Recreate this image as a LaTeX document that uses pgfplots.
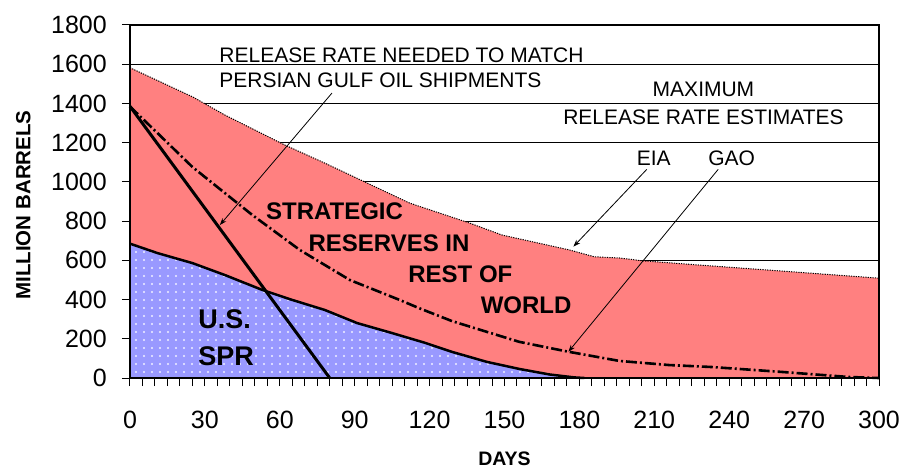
\documentclass[border=0pt]{standalone}
\usepackage{fontspec}
\setmainfont{Liberation Sans}
\usepackage{pgfplots}
\pgfplotsset{compat=1.18}
\usetikzlibrary{arrows.meta,patterns.meta}
\definecolor{redfill}{RGB}{255,128,128}
\definecolor{bluefill}{RGB}{153,153,255}
\definecolor{dotcol}{RGB}{240,240,255}
\begin{document}
\begin{tikzpicture}
\begin{axis}[
  at={(0,0)}, anchor=south west,
  scale only axis, width=749bp, height=353bp,
  xmin=0, xmax=300, ymin=0, ymax=1800,
  xtick={0,30,...,300}, minor x tick num=5,
  ytick={0,200,...,1800},
  xtick pos=bottom, ytick pos=left,
  tick align=outside,
  major tick length=8bp, minor tick length=8bp,
  tick style={black, line width=1bp},
  ymajorgrids, grid style={black, line width=0.8bp},
  axis line style={line width=1.5bp},
  clip=false,
  /pgf/number format/assume math mode=true,
  /pgf/number format/1000 sep={},
  ticklabel style={font=\fontsize{25bp}{30bp}\selectfont, inner sep=0pt},
  yticklabel style={anchor=east, xshift=-15bp},
  xticklabel style={anchor=north, yshift=-25bp},
  xlabel={DAYS}, ylabel={MILLION BARRELS},
  xlabel style={at={(axis description cs:0.5,-0.247)}, anchor=base, inner sep=0pt, font=\bfseries\fontsize{19.5bp}{23bp}\selectfont},
  ylabel style={at={(axis description cs:-0.1425,0.49)}, anchor=center, rotate=0, inner sep=0pt, font=\bfseries\fontsize{20.5bp}{24bp}\selectfont},
  every node/.append style={inner sep=0pt},
]
% rest of world reserves (top envelope, EIA)
\addplot [fill=redfill, draw=none] coordinates {
 (0,1582) (25,1434) (38,1341) (62,1188) (78,1096) (94,1000) (112,892)
 (136,790) (149,729) (176,653) (186,618) (196,612) (205,598) (228,576)
 (255,551) (300,509)} \closedcycle;
\addplot [black, line width=1bp, dash pattern=on 1.2bp off 1.2bp] coordinates {
 (0,1582) (25,1434) (38,1341) (62,1188) (78,1096) (94,1000) (112,892)
 (136,790) (149,729) (176,653) (186,618) (196,612) (205,598) (228,576)
 (255,551) (300,509)};
% GAO estimate
\addplot [black, line width=2.6bp, dash pattern=on 11bp off 3bp on 2bp off 3bp] coordinates {
 (0,1384) (11,1249) (25,1076) (38,943) (49,831) (68,653) (88,500) (108,398)
 (116,355) (129,290) (143,235) (156,184) (176,133) (196,87) (216,66)
 (233,56) (261,31) (288,5) (300,0)};
% U.S. SPR
\addplot [fill=bluefill, draw=none] coordinates {
 (0,685) (11,637) (25,586) (38,525) (53,449) (65,398) (78,347) (91,280)
 (105,229) (118,180) (129,133) (143,82) (156,46) (168,18) (178,3) (182,0)} \closedcycle;
\addplot [pattern={Dots[distance=8bp, radius=1.2bp]}, pattern color=dotcol, draw=none] coordinates {
 (0,685) (11,637) (25,586) (38,525) (53,449) (65,398) (78,347) (91,280)
 (105,229) (118,180) (129,133) (143,82) (156,46) (168,18) (178,3) (182,0)} \closedcycle;
\addplot [black, line width=2.5bp] coordinates {
 (0,685) (11,637) (25,586) (38,525) (53,449) (65,398) (78,347) (91,280)
 (105,229) (118,180) (129,133) (143,82) (156,46) (168,18) (178,3) (182,0)};
% release rate needed
\addplot [black, line width=3bp] coordinates {(0,1385) (80,0)};
% frame
\draw [line width=1.5bp] (rel axis cs:0,0) rectangle (rel axis cs:1,1);
\draw [line width=2.5bp] (rel axis cs:0,1) -- (rel axis cs:0,0) -- (rel axis cs:1,0);
% annotations
\node [anchor=base west, font=\fontsize{21bp}{25bp}\selectfont] at (axis cs:34.4,1611) {RELEASE RATE NEEDED TO MATCH};
\node [anchor=base west, font=\fontsize{21bp}{25bp}\selectfont] at (axis cs:34.4,1479) {PERSIAN GULF OIL SHIPMENTS};
\draw [-{Stealth[length=7bp,width=5bp]}, line width=0.8bp] (axis cs:80.9,1453) -- (axis cs:36.0,780);
\node [anchor=base, font=\fontsize{21bp}{25bp}\selectfont] at (axis cs:229.7,1433) {MAXIMUM};
\node [anchor=base, font=\fontsize{21bp}{25bp}\selectfont] at (axis cs:229.7,1295) {RELEASE RATE ESTIMATES};
\node [anchor=base, font=\fontsize{21bp}{25bp}\selectfont] at (axis cs:209.8,1086) {EIA};
\node [anchor=base, font=\fontsize{21bp}{25bp}\selectfont] at (axis cs:241.0,1086) {GAO};
\draw [-{Stealth[length=7bp,width=5bp]}, line width=0.8bp] (axis cs:207.0,1064) -- (axis cs:177.6,670);
\draw [-{Stealth[length=7bp,width=5bp]}, line width=0.8bp] (axis cs:235.6,1064) -- (axis cs:175.6,134);
\node [anchor=base west, font=\bfseries\fontsize{24bp}{28bp}\selectfont] at (axis cs:53.1,805.7) {STRATEGIC};
\node [anchor=base west, font=\bfseries\fontsize{24bp}{28bp}\selectfont] at (axis cs:70.1,644) {RESERVES IN};
\node [anchor=base west, font=\bfseries\fontsize{24bp}{28bp}\selectfont] at (axis cs:110.1,486) {REST OF};
\node [anchor=base west, font=\bfseries\fontsize{24bp}{28bp}\selectfont] at (axis cs:139.1,331) {WORLD};
\node [anchor=base west, font=\bfseries\fontsize{27bp}{31bp}\selectfont] at (axis cs:26.0,253) {U.S.};
\node [anchor=base west, font=\bfseries\fontsize{27bp}{31bp}\selectfont] at (axis cs:26.0,66) {SPR};
\end{axis}
\pgfresetboundingbox
\path [use as bounding box] (-130bp,-90bp) rectangle (773bp,378bp);
\end{tikzpicture}
\end{document}
